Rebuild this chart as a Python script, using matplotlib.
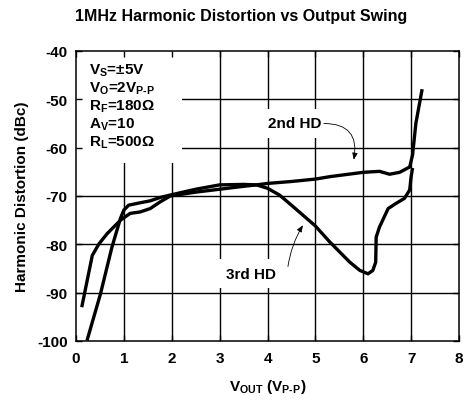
import matplotlib
matplotlib.use("Agg")
import matplotlib.pyplot as plt
from matplotlib.patches import Rectangle

plt.rcParams['font.family'] = ['Liberation Sans', 'DejaVu Sans']
plt.rcParams['font.weight'] = 'bold'
plt.rcParams['axes.unicode_minus'] = False
plt.rcParams['mathtext.fontset'] = 'custom'
plt.rcParams['mathtext.rm'] = 'Liberation Sans:bold'
plt.rcParams['mathtext.bf'] = 'Liberation Sans:bold'
plt.rcParams['mathtext.it'] = 'Liberation Sans:bold'
plt.rcParams['mathtext.sf'] = 'Liberation Sans:bold'

# ---- data ----
x_2nd = [0.12, 0.34, 0.48, 0.65, 0.93, 1.13, 1.34, 1.55, 1.76, 1.97, 2.5, 3.0,
         3.5, 3.77, 4.0, 4.5, 5.0, 5.3, 6.0, 6.34, 6.55, 6.76, 6.97, 7.03, 7.1, 7.23]
y_2nd = [-93.0, -82.3, -79.9, -77.8, -75.0, -73.6, -73.3, -72.6, -71.2, -70.0, -69.2, -68.6,
         -68.0, -67.7, -67.4, -67.0, -66.5, -66.0, -65.1, -64.9, -65.5, -65.1, -64.0, -61.5, -54.9, -47.9]

x_3rd = [0.23, 0.51, 0.75, 0.93, 1.0, 1.1, 1.34, 1.55, 1.76, 1.97, 2.5, 3.0, 3.5, 3.77,
         4.0, 4.25, 4.5, 5.0, 5.3, 5.51, 5.72, 5.93, 6.1, 6.2, 6.26, 6.27, 6.34, 6.52,
         6.69, 6.86, 6.97, 7.0, 7.03]
y_3rd = [-99.9, -90.3, -80.6, -74.6, -72.9, -71.9, -71.4, -71.0, -70.3, -69.8, -68.6, -67.7, -67.6, -67.7,
         -68.4, -69.8, -71.9, -76.2, -79.5, -81.6, -83.7, -85.4, -86.1, -85.4, -83.7, -78.5, -76.4, -72.6,
         -71.5, -70.5, -68.75, -66.0, -64.2]

x_ticks = [0, 1, 2, 3, 4, 5, 6, 7, 8]
y_ticks = [-100, -90, -80, -70, -60, -50, -40]

title = "1MHz Harmonic Distortion vs Output Swing"
conditions = [r"V$_\mathrm{S}$=±5V", r"V$_\mathrm{O}$=2V$_\text{P-P}$", r"R$_\mathrm{F}$=180Ω",
              r"A$_\mathrm{V}$=10", r"R$_\mathrm{L}$=500Ω"]

W, H = 470, 402
fig = plt.figure(figsize=(W / 100, H / 100), dpi=100)
L, R, T, B = 76, 459, 52, 342
ax = fig.add_axes([L / W, 1 - B / H, (R - L) / W, (B - T) / H])

ax.set_xlim(0, 8)
ax.set_ylim(-100, -40)
ax.set_xticks(x_ticks)
ax.set_yticks(y_ticks)
ax.tick_params(direction='in', length=4, width=1.0, top=True, right=True,
               labelsize=11, pad=7)
ax.tick_params(axis='y', pad=6)
for lab in ax.get_xticklabels() + ax.get_yticklabels():
    lab.set_fontweight('bold')
for s in ax.spines.values():
    s.set_linewidth(1.1)
ax.set_axisbelow(False)

# grid lines
for xv in x_ticks[1:-1]:
    ax.axvline(xv, color='black', lw=1.0, zorder=1)
for yv in y_ticks[1:-1]:
    ax.axhline(yv, color='black', lw=1.0, zorder=1)

# white box behind conditions
ax.add_patch(Rectangle((0, (B - 164) / (B - T)), (182 - L) / (R - L), 1,
                       transform=ax.transAxes, facecolor='white', edgecolor='none',
                       zorder=2, clip_on=True))

ax.plot(x_2nd, y_2nd, color='black', lw=2.4, zorder=3, solid_capstyle='butt')
ax.plot(x_3rd, y_3rd, color='black', lw=2.4, zorder=3, solid_capstyle='butt')

def px2data(px, py):
    return (px - 75.5) / 48.0, -40 - (py - 52) / 4.8

for i, s in enumerate(conditions):
    base = [75, 93, 111, 129, 147][i]
    fig.text(89 / W, 1 - base / H, s, fontsize=11, fontweight='bold',
             ha='left', va='baseline', zorder=5)

# labels with arrows
bx = dict(boxstyle='square,pad=0.5', facecolor='white', edgecolor='none')
ax.text(*px2data(294.5, 124), "2nd HD", fontsize=11, fontweight='bold',
        ha='center', va='center', bbox=bx, zorder=4)
ax.text(*px2data(251, 273), "3rd HD", fontsize=11, fontweight='bold',
        ha='center', va='center', bbox=bx, zorder=4)

ax.annotate('', xy=px2data(354, 160), xytext=px2data(324, 124),
            arrowprops=dict(arrowstyle='-|>,head_length=0.5,head_width=0.2', color='black', lw=0.6,
                            connectionstyle='angle3,angleA=0,angleB=80',
                            shrinkA=0, shrinkB=0, mutation_scale=8), zorder=5)
ax.annotate('', xy=px2data(303, 225), xytext=px2data(288, 266),
            arrowprops=dict(arrowstyle='-|>,head_length=0.5,head_width=0.2', color='black', lw=0.6,
                            connectionstyle='arc3,rad=-0.1',
                            shrinkA=0, shrinkB=0, mutation_scale=8), zorder=5)

ax.set_xlabel(r"V$_\mathrm{OUT}$ (V$_\text{P-P}$)", fontsize=11, fontweight='bold', labelpad=9)
ax.set_ylabel("Harmonic Distortion (dBc)", fontsize=11, fontweight='bold', labelpad=6)

fig.text(241 / W, 1 - 17 / H, title, fontsize=11.5, fontweight='bold', ha='center', va='center')

fig.savefig('out.png', dpi=100)
